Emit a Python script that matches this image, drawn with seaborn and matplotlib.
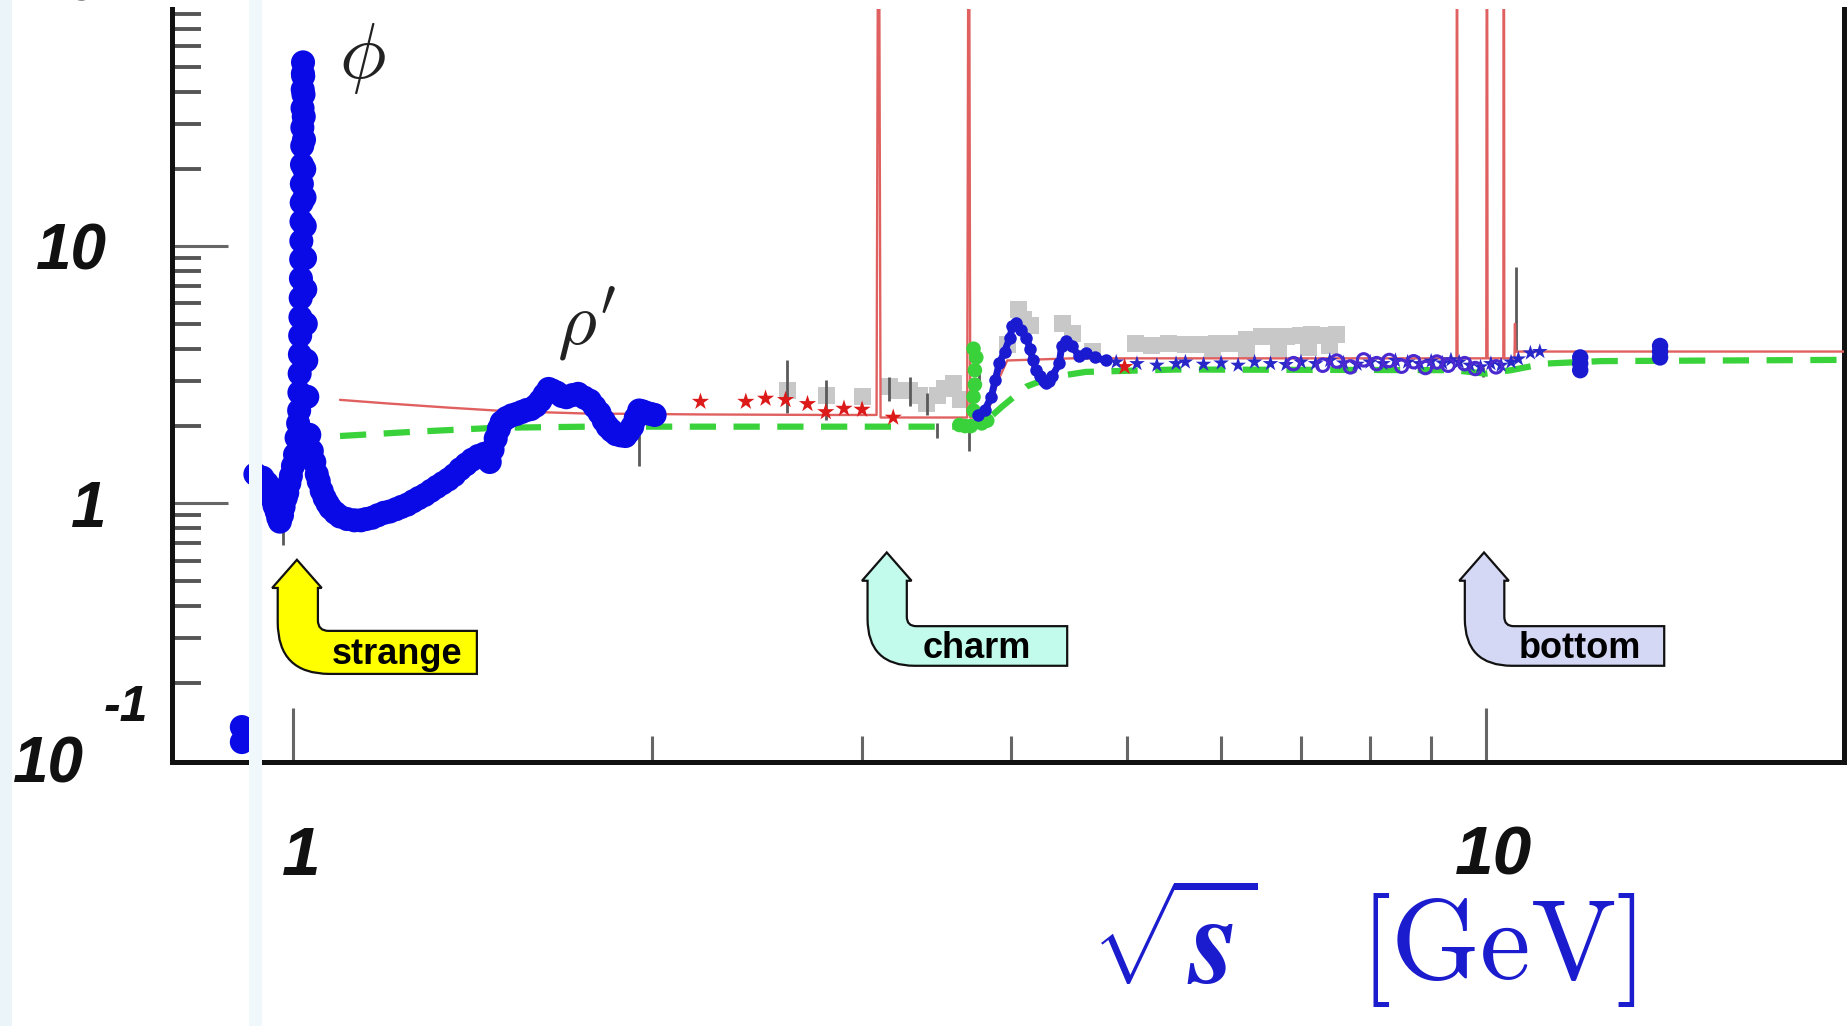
import matplotlib
matplotlib.use("Agg")
import matplotlib.pyplot as plt
import matplotlib.transforms as mtransforms
import seaborn as sns
from matplotlib.path import Path
from matplotlib.patches import PathPatch, Rectangle
from matplotlib.ticker import FixedLocator, NullFormatter

# ---------------- data (sqrt(s) in GeV, R ratio) ----------------
# low-energy measurements (blue band, phi and rho' region)
low_sqrt_s = [0.906, 0.906, 0.930, 0.943, 0.948, 0.951, 0.956, 0.960, 0.965, 0.969, 0.972, 0.975,
              0.979, 0.982, 0.986, 0.989, 0.993, 0.996, 1.000, 1.004, 1.007, 1.010,
              1.012, 1.0125, 1.013, 1.0135, 1.014, 1.0145, 1.015, 1.0155, 1.016, 1.0163, 1.0166,
              1.017, 1.0173, 1.0176, 1.018, 1.0183, 1.0186, 1.019, 1.0193, 1.0196,
              1.020, 1.0205, 1.021, 1.0215, 1.022, 1.0225, 1.023, 1.0235, 1.024, 1.025, 1.026, 1.028,
              1.032, 1.037, 1.042, 1.047, 1.051, 1.057, 1.063, 1.069, 1.075, 1.085, 1.095,
              1.110, 1.126, 1.140, 1.152, 1.165, 1.178, 1.192, 1.205, 1.220, 1.233, 1.247,
              1.261, 1.275, 1.290, 1.305, 1.320, 1.335, 1.350, 1.365, 1.381, 1.397, 1.413,
              1.430, 1.446, 1.455, 1.462, 1.470, 1.479, 1.488, 1.496, 1.510, 1.525, 1.540,
              1.555, 1.570, 1.583, 1.598, 1.612, 1.625, 1.638, 1.650, 1.664, 1.680, 1.695,
              1.715, 1.734, 1.755, 1.774, 1.790, 1.807, 1.822, 1.836, 1.850, 1.866, 1.883,
              1.900, 1.912, 1.925, 1.938, 1.951, 1.965, 1.979, 1.995, 2.010]
low_R = [0.135, 0.118, 1.30, 1.26, 1.15, 1.20, 1.10, 1.05, 0.98, 0.93, 0.88, 0.85,
         0.90, 0.97, 1.05, 1.10, 1.20, 1.28, 1.40, 1.55, 1.80, 2.05,
         2.3, 2.7, 3.2, 3.8, 4.5, 5.3, 6.3, 7.5, 8.9, 10.5, 12.5,
         14.8, 17.5, 20.8, 24.6, 29.0, 34.5, 40.8, 47.0, 52.0,
         46.0, 39.0, 32.0, 26.0, 20.0, 15.5, 12.0, 9.0, 6.8, 5.0, 3.6, 2.6,
         1.85, 1.60, 1.45, 1.30, 1.22, 1.12, 1.05, 1.00, 0.96, 0.92, 0.89,
         0.87, 0.86, 0.86, 0.87, 0.88, 0.90, 0.92, 0.93, 0.95, 0.97, 0.99,
         1.02, 1.05, 1.08, 1.12, 1.16, 1.20, 1.24, 1.29, 1.36, 1.42, 1.48,
         1.53, 1.56, 1.50, 1.45, 1.62, 1.79, 1.95, 2.07, 2.15, 2.20, 2.23,
         2.27, 2.31, 2.33, 2.40, 2.51, 2.65, 2.79, 2.75, 2.70, 2.62, 2.59,
         2.64, 2.67, 2.58, 2.51, 2.38, 2.25, 2.10, 1.99, 1.92, 1.86, 1.84,
         1.83, 1.90, 1.99, 2.15, 2.30, 2.28, 2.25, 2.23, 2.21]

# QCD prediction (thin red line, with narrow resonances)
theory_sqrt_s = [1.095, 1.20, 1.35, 1.50, 1.75, 2.20, 2.80, 3.085, 3.097, 3.109, 3.40, 3.675,
                 3.686, 3.697, 3.80, 3.84, 3.90, 3.97, 4.50, 6.00, 8.00, 9.45, 9.460, 9.47,
                 10.01, 10.023, 10.035, 10.345, 10.355, 10.365, 10.57, 10.58, 10.59, 11.0, 20.0]
theory_R = [2.53, 2.45, 2.36, 2.29, 2.24, 2.22, 2.21, 2.21, 1000, 2.16, 2.16, 2.16,
            1000, 2.16, 2.16, 2.40, 3.00, 3.60, 3.67, 3.67, 3.67, 3.67, 1000, 3.67,
            3.67, 1000, 3.67, 3.67, 1000, 3.67, 3.67, 5.0, 3.90, 3.90, 3.90]

# parton model (green dashed line)
parton_sqrt_s = [1.095, 1.26, 1.48, 1.77, 3.67, 3.80, 3.93, 4.12, 4.31, 4.62, 5.5, 9.4, 10.0, 10.5, 11.2, 12.5, 20.0]
parton_R = [1.83, 1.90, 1.97, 1.99, 1.99, 2.07, 2.38, 2.85, 3.09, 3.25, 3.32, 3.30, 3.20, 3.30, 3.50, 3.58, 3.62]

# red star measurements
stars_sqrt_s = [2.196, 2.397, 2.490, 2.588, 2.700, 2.797, 2.897, 3.000, 3.186, 4.98]
stars_R = [2.49, 2.49, 2.56, 2.53, 2.44, 2.27, 2.34, 2.32, 2.16, 3.40]

# grey square measurements
grey_sqrt_s = [2.596, 2.80, 3.00, 3.16, 3.21, 3.29, 3.35, 3.40, 3.47, 3.52, 3.58, 3.63,
               3.97, 4.06, 4.10, 4.15, 4.42, 4.50, 4.68, 5.09, 5.25, 5.42, 5.60, 5.77,
               5.95, 6.14, 6.30, 6.49, 6.65, 6.81, 7.00, 7.14, 7.30, 7.49,
               5.90, 6.30, 6.70, 7.10, 7.40]
grey_R = [2.76, 2.64, 2.60, 2.85, 2.76, 2.76, 2.64, 2.45, 2.64, 2.80, 2.93, 2.53,
          4.14, 5.70, 5.20, 4.94, 5.00, 4.60, 3.90, 4.20, 4.10, 4.20, 4.15, 4.15,
          4.20, 4.20, 4.35, 4.45, 4.45, 4.45, 4.50, 4.55, 4.50, 4.55,
          3.95, 3.95, 4.00, 4.05, 4.10]

# error bars
err_sqrt_s = [0.980, 1.008, 1.950, 2.596, 2.80, 3.16, 3.29, 3.40, 3.466, 3.69, 3.76, 9.95, 10.60]
err_lo = [0.69, 1.59, 1.40, 2.25, 2.12, 2.50, 2.40, 2.20, 1.79, 1.60, 2.90, 3.10, 3.90]
err_hi = [0.84, 2.05, 1.86, 3.61, 3.03, 3.10, 3.10, 2.70, 2.05, 2.05, 3.30, 3.40, 8.30]

# charm threshold scan (blue)
scan_sqrt_s = [3.75, 3.80, 3.85, 3.88, 3.91, 3.95, 3.99, 4.01, 4.04, 4.08, 4.12, 4.15, 4.17,
               4.20, 4.23, 4.26, 4.28, 4.30, 4.33, 4.39, 4.41, 4.45, 4.50, 4.56, 4.62, 4.70, 4.80]
scan_R = [2.20, 2.30, 2.60, 3.03, 3.51, 3.90, 4.40, 4.90, 5.04, 4.75, 4.40, 4.00, 3.62,
          3.30, 3.12, 3.00, 2.95, 3.00, 3.12, 3.51, 4.10, 4.27, 4.09, 3.74, 3.85, 3.70, 3.60]

# blue stars (continuum) and open circles
cont_sqrt_s = [4.9, 5.1, 5.3, 5.5, 5.6, 5.8, 6.0, 6.2, 6.4, 6.6, 6.8, 7.0, 7.2, 7.4, 7.6,
               7.8, 8.0, 8.2, 8.4, 8.6, 8.8, 9.0, 9.2, 9.35, 9.5, 9.7, 9.9, 10.1, 10.3,
               10.5, 10.65, 10.9, 11.1]
cont_R = [3.55, 3.50, 3.45, 3.50, 3.55, 3.48, 3.52, 3.45, 3.55, 3.50, 3.47, 3.55, 3.50,
          3.60, 3.52, 3.48, 3.55, 3.50, 3.60, 3.55, 3.50, 3.58, 3.52, 3.62, 3.55, 3.45,
          3.40, 3.50, 3.45, 3.55, 3.65, 3.85, 3.90]
circ_sqrt_s = [6.9, 7.3, 7.5, 7.7, 7.9, 8.1, 8.3, 8.5, 8.7, 8.9, 9.1, 9.3, 9.6, 9.8, 10.2]
circ_R = [3.50, 3.45, 3.58, 3.40, 3.62, 3.50, 3.60, 3.42, 3.56, 3.38, 3.55, 3.45, 3.50, 3.35, 3.40]

# high-energy blue points
high_sqrt_s = [12.0, 12.0, 12.0, 14.0, 14.0, 14.0]
high_R = [3.30, 3.50, 3.70, 3.70, 3.90, 4.10]

# green measurements around psi(2S)
green_sqrt_s = [3.62, 3.66, 3.70, 3.72, 3.72, 3.73, 3.73, 3.74, 3.72, 3.78, 3.82]
green_R = [2.02, 2.00, 2.00, 2.30, 2.60, 2.90, 3.30, 3.70, 4.00, 2.05, 2.10]

y_tick_labels = ["1", "10"]
x_tick_labels = ["1", "10"]
flavours = ["strange", "charm", "bottom"]

# ---------------- figure ----------------
sns.set_theme(style="white")
plt.rcParams["font.family"] = ["Liberation Sans", "DejaVu Sans"]
plt.rcParams["mathtext.fontset"] = "cm"

W, H = 1849, 1026
S = W / 1568.0
fig = plt.figure(figsize=(W / 100, H / 100), dpi=100, facecolor="white")


def fx(x):
    return x * S / W


def fy(y):
    return 1 - y * S / H


ax = fig.add_axes([fx(145.9), fy(646.2), fx(1563.8) - fx(145.9), fy(7.6) - fy(646.2)])
ax.set_facecolor("white")
ax.set_xscale("log")
ax.set_yscale("log")
ax.set_xlim(0.7918, 19.97)
ax.set_ylim(0.0987, 83.9)

# grey squares
sns.scatterplot(x=grey_sqrt_s, y=grey_R, marker="s", s=150, color="#c8c8c8",
                edgecolor="none", linewidth=0, ax=ax, zorder=2)
ax.vlines(err_sqrt_s, err_lo, err_hi, color="#5a5a5a", lw=2.0, zorder=3)

# parton model
sns.lineplot(x=parton_sqrt_s, y=parton_R, sort=False, estimator=None, color="#3ad23a",
             lw=4.5, ax=ax, zorder=4)
ax.lines[-1].set_dashes([4.2, 2.8])

# theory line
sns.lineplot(x=theory_sqrt_s, y=theory_R, sort=False, estimator=None, color="#e06060",
             lw=1.7, ax=ax, zorder=5)

# measurements
sns.scatterplot(x=green_sqrt_s, y=green_R, marker="o", s=110, color="#3ad23a",
                edgecolor="none", linewidth=0, ax=ax, zorder=5)
sns.scatterplot(x=stars_sqrt_s, y=stars_R, marker="*", s=170, color="#dd1a1a",
                edgecolor="none", linewidth=0, ax=ax, zorder=6)
sns.lineplot(x=scan_sqrt_s, y=scan_R, sort=False, estimator=None, color="#1a1ad0",
             lw=5, marker="o", markersize=9, markeredgewidth=0, ax=ax, zorder=6)
sns.scatterplot(x=cont_sqrt_s, y=cont_R, marker="*", s=140, color="#2828c8",
                edgecolor="none", linewidth=0, ax=ax, zorder=6)
ax.scatter(circ_sqrt_s, circ_R, marker="o", s=80, facecolor="none", edgecolor="#4a2ad0",
           linewidth=2.2, zorder=6)
sns.scatterplot(x=high_sqrt_s, y=high_R, marker="o", s=140, color="#1a1ad0",
                edgecolor="none", linewidth=0, ax=ax, zorder=6)
sns.scatterplot(x=low_sqrt_s, y=low_R, marker="o", s=300, color="#0a0ae6",
                edgecolor="none", linewidth=0, ax=ax, zorder=7)

# resonance labels
ax.text(1.144, 54.0, r"$\phi$", fontsize=56, ha="center", va="center", color="#222222", zorder=8)
ax.text(1.763, 5.0, r"$\rho'$", fontsize=54, ha="center", va="center", color="#222222", zorder=8)

# axes styling
for side in ["left", "bottom", "right"]:
    ax.spines[side].set_visible(True)
    ax.spines[side].set_color("#111111")
    ax.spines[side].set_linewidth(3.6)
ax.spines["top"].set_visible(False)

ax.set_xticks([1, 10], labels=x_tick_labels, fontsize=50, fontweight="bold",
              fontstyle="italic", color="#111111")
ax.set_yticks([1, 10], labels=y_tick_labels, fontsize=46, fontweight="bold",
              fontstyle="italic", color="#111111")
ax.xaxis.set_minor_locator(FixedLocator([2, 3, 4, 5, 6, 7, 8, 9]))
ax.xaxis.set_minor_formatter(NullFormatter())
ax.yaxis.set_minor_locator(FixedLocator([0.2, 0.3, 0.4, 0.5, 0.6, 0.7, 0.8, 0.9,
                                         2, 3, 4, 5, 6, 7, 8, 9,
                                         20, 30, 40, 50, 60, 70, 80]))
ax.yaxis.set_minor_formatter(NullFormatter())
ax.tick_params(axis="x", which="major", direction="in", length=39, width=2.2,
               color="#666666", pad=45, bottom=True, top=False)
ax.tick_params(axis="x", which="minor", direction="in", length=19, width=2.2,
               color="#666666", bottom=True, top=False)
ax.tick_params(axis="y", which="major", direction="in", length=40, width=2.2,
               color="#666666", pad=47, left=True, right=False)
ax.tick_params(axis="y", which="minor", direction="in", length=21, width=2.8,
               color="#555555", left=True, right=False)
shift = mtransforms.ScaledTranslation(0.08, 0, fig.dpi_scale_trans)
for lab in ax.xaxis.get_majorticklabels():
    lab.set_transform(lab.get_transform() + shift)

# extra tick labels (10^-1 and cropped top one)
fig.text(fx(40.7), fy(649), "10", fontsize=46, fontweight="bold", fontstyle="italic",
         ha="center", va="center", color="#111111")
fig.text(fx(107), fy(600), "-1", fontsize=36, fontweight="bold", fontstyle="italic",
         ha="center", va="center", color="#111111")
fig.text(fx(57), fy(-14), "10", fontsize=46, fontweight="bold", fontstyle="italic",
         ha="center", va="center", color="#111111")

# axis title
fig.text(fx(996), fy(807), r"$\sqrt{\mathbfit{s}}$", fontsize=92, color="#1c1ccf",
         ha="center", va="center")
fig.text(fx(1270), fy(806), r"$[\mathrm{GeV}]$", fontsize=82, color="#1c1ccf",
         ha="center", va="center")


# bent-up arrows
def bent_arrow(tip_x, tip_y, half, base_y, sl, sr, top, bot, right, r_in, r_out, color):
    pts = [(tip_x, tip_y), (tip_x + half, base_y), (sr, base_y), (sr, top - r_in),
           (sr, top), (sr + r_in, top), (right, top), (right, bot), (sl + r_out, bot),
           (sl, bot), (sl, bot - r_out), (sl, base_y), (tip_x - half, base_y), (tip_x, tip_y)]
    codes = [Path.MOVETO, Path.LINETO, Path.LINETO, Path.LINETO,
             Path.CURVE3, Path.CURVE3, Path.LINETO, Path.LINETO, Path.LINETO,
             Path.CURVE3, Path.CURVE3, Path.LINETO, Path.LINETO, Path.CLOSEPOLY]
    verts = [(fx(px), fy(py)) for px, py in pts]
    patch = PathPatch(Path(verts, codes), facecolor=color, edgecolor="#111111", lw=1.6,
                      transform=fig.transFigure, zorder=6)
    fig.patches.append(patch)


bent_arrow(251.8, 474.7, 21, 498.6, 235.5, 269.6, 535, 571.5, 404.4, 9, 44, "#ffff00")
bent_arrow(752.0, 468.5, 21, 492.5, 735.7, 769.0, 531, 564.6, 905.0, 8, 40, "#c2fbeb")
bent_arrow(1258.5, 468.5, 21, 492.5, 1242.2, 1275.7, 531, 564.6, 1411.3, 8, 40, "#d5d8f5")

label_pos = [(337, 563.5), (828, 558), (1340, 558)]
for name, (px, py) in zip(flavours, label_pos):
    fig.text(fx(px), fy(py), name, fontsize=26, fontweight="bold", ha="center",
             va="baseline", color="#000000", zorder=7)

# pale strips of the original collage
fig.patches.append(Rectangle((fx(211), 0), fx(222) - fx(211), 1, transform=fig.transFigure,
                             facecolor="#f1f8fb", edgecolor="none", zorder=5))
fig.patches.append(Rectangle((0, 0), fx(10), 1, transform=fig.transFigure,
                             facecolor="#eaf4f9", edgecolor="none", zorder=5))

fig.savefig("out.png", dpi=100, facecolor=fig.get_facecolor())
